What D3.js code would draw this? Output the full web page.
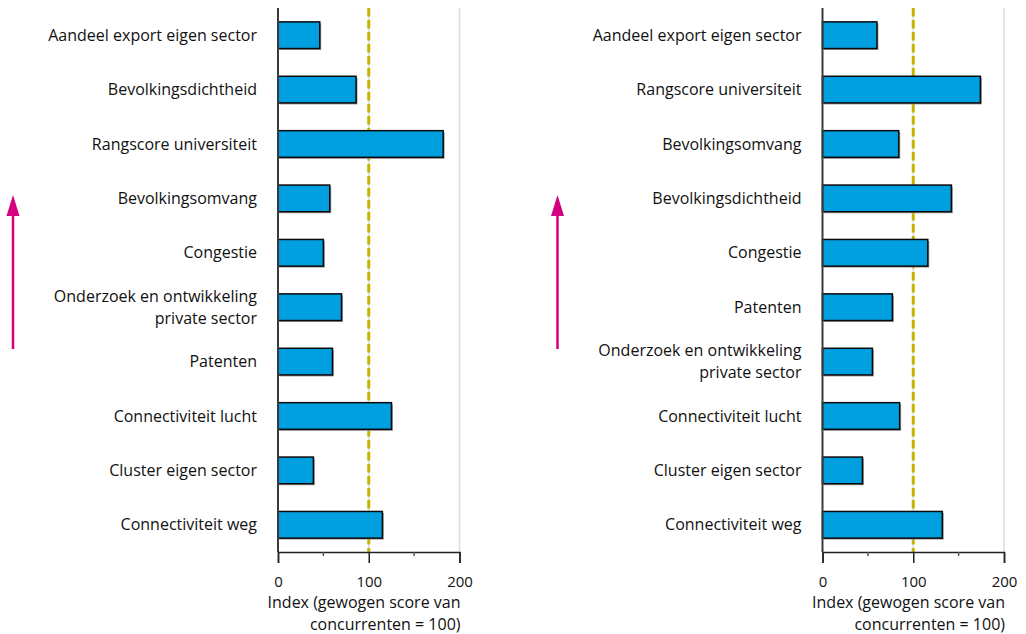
<!DOCTYPE html>
<html>
<head>
<meta charset="utf-8">
<script src="https://cdn.jsdelivr.net/npm/d3@7"></script>
<style>
  body { margin: 0; background: #fff; }
  svg text { font-family: "Open Sans", "Noto Sans", sans-serif; fill: #111; }
</style>
</head>
<body>
<div id="chart"></div>
<script>
// left panel
var catsLeft = ["Aandeel export eigen sector", "Bevolkingsdichtheid", "Rangscore universiteit",
  "Bevolkingsomvang", "Congestie", "Onderzoek en ontwikkeling\nprivate sector", "Patenten",
  "Connectiviteit lucht", "Cluster eigen sector", "Connectiviteit weg"];
var valsLeft = [46, 86, 182, 57, 50, 70, 60, 125, 39, 115];

// right panel
var catsRight = ["Aandeel export eigen sector", "Rangscore universiteit", "Bevolkingsomvang",
  "Bevolkingsdichtheid", "Congestie", "Patenten", "Onderzoek en ontwikkeling\nprivate sector",
  "Connectiviteit lucht", "Cluster eigen sector", "Connectiviteit weg"];
var valsRight = [60, 174, 84, 142, 116, 77, 55, 85, 44, 132];

var xTicks = [0, 100, 200];
var xMinor = [50, 150];
var refValue = 100;
var axisTitle = ["Index (gewogen score van", "concurrenten = 100)"];

var W = 1026, H = 634;
var plotTop = 8, plotBottom = 552, plotW = 181.5;

var svg = d3.select("#chart").append("svg")
    .attr("width", W)
    .attr("height", H);

function drawPanel(left, cats, vals, arrowX) {
  var g = svg.append("g").attr("transform", "translate(" + left + ",0)");

  var x = d3.scaleLinear().domain([0, 200]).range([0, plotW]);
  var y = d3.scaleBand().domain(cats).range([plotTop, plotBottom])
      .paddingInner(0.51).paddingOuter(0.255);

  // gridlines
  g.selectAll(".grid")
      .data(xTicks.slice(1))
      .enter().append("line")
      .attr("x1", function(d) { return x(d); })
      .attr("x2", function(d) { return x(d); })
      .attr("y1", plotTop)
      .attr("y2", plotBottom)
      .attr("stroke", "#dcdcdc")
      .attr("stroke-width", 1.5);

  // reference line at 100
  g.append("line")
      .attr("x1", x(refValue)).attr("x2", x(refValue))
      .attr("y1", plotTop).attr("y2", plotBottom)
      .attr("stroke", "#c4b300")
      .attr("stroke-width", 3)
      .attr("stroke-dasharray", "8.5,3.5");

  // bar shadows
  g.selectAll(".shadow")
      .data(vals)
      .enter().append("rect")
      .attr("x", x(0) + 1.5)
      .attr("y", function(d, i) { return y(cats[i]) + 1.5; })
      .attr("width", function(d) { return x(d) - x(0); })
      .attr("height", y.bandwidth())
      .attr("fill", "#9a9a9a");

  g.selectAll(".bar")
      .data(vals)
      .enter().append("rect")
      .attr("class", "bar")
      .attr("x", x(0))
      .attr("y", function(d, i) { return y(cats[i]); })
      .attr("width", function(d) { return x(d) - x(0); })
      .attr("height", y.bandwidth())
      .attr("fill", "#009fdf")
      .attr("stroke", "#0a0a0a")
      .attr("stroke-width", 1.5);

  // vertical axis line
  g.append("line")
      .attr("x1", 0).attr("x2", 0)
      .attr("y1", plotTop).attr("y2", plotBottom)
      .attr("stroke", "#3a3a3a")
      .attr("stroke-width", 2);

  // category labels
  cats.forEach(function(c) {
    var lines = c.split("\n");
    var cy = y(c) + y.bandwidth() / 2 - (lines.length - 1) * 11;
    var t = g.append("text")
        .attr("text-anchor", "end")
        .attr("font-size", 16)
        .attr("y", cy);
    lines.forEach(function(l, k) {
      t.append("tspan").attr("x", -21).attr("dy", k === 0 ? "0.35em" : 22).text(l);
    });
  });

  // x axis
  var xAxis = d3.axisBottom(x).tickValues(xTicks).tickSize(11).tickPadding(13);
  var ax = g.append("g")
      .attr("transform", "translate(0," + plotBottom + ")")
      .call(xAxis);
  ax.select(".domain").attr("stroke", "#222").attr("stroke-width", 1.5);
  ax.selectAll(".tick line").attr("stroke", "#222").attr("stroke-width", 1.5);
  ax.selectAll(".tick text")
      .attr("font-size", 15)
      .attr("font-family", "\"Open Sans\", sans-serif")
      .attr("fill", "#111");

  g.selectAll(".minor")
      .data(xMinor)
      .enter().append("line")
      .attr("x1", function(d) { return x(d); })
      .attr("x2", function(d) { return x(d); })
      .attr("y1", plotBottom)
      .attr("y2", plotBottom + 4)
      .attr("stroke", "#555")
      .attr("stroke-width", 1.5);

  axisTitle.forEach(function(l, k) {
    g.append("text")
        .attr("text-anchor", "end")
        .attr("font-size", 16)
        .attr("x", plotW + 1)
        .attr("y", 608 + k * 22)
        .text(l);
  });

  // magenta arrow
  var ag = svg.append("g");
  ag.append("line")
      .attr("x1", arrowX).attr("x2", arrowX)
      .attr("y1", 349).attr("y2", 212)
      .attr("stroke", "#d4007f")
      .attr("stroke-width", 2.5);
  ag.append("path")
      .attr("d", "M" + arrowX + ",195 L" + (arrowX + 6.5) + ",216 L" + (arrowX - 6.5) + ",216 Z")
      .attr("fill", "#d4007f");
}

drawPanel(278, catsLeft, valsLeft, 13);
drawPanel(822.5, catsRight, valsRight, 557.5);
</script>
</body>
</html>
